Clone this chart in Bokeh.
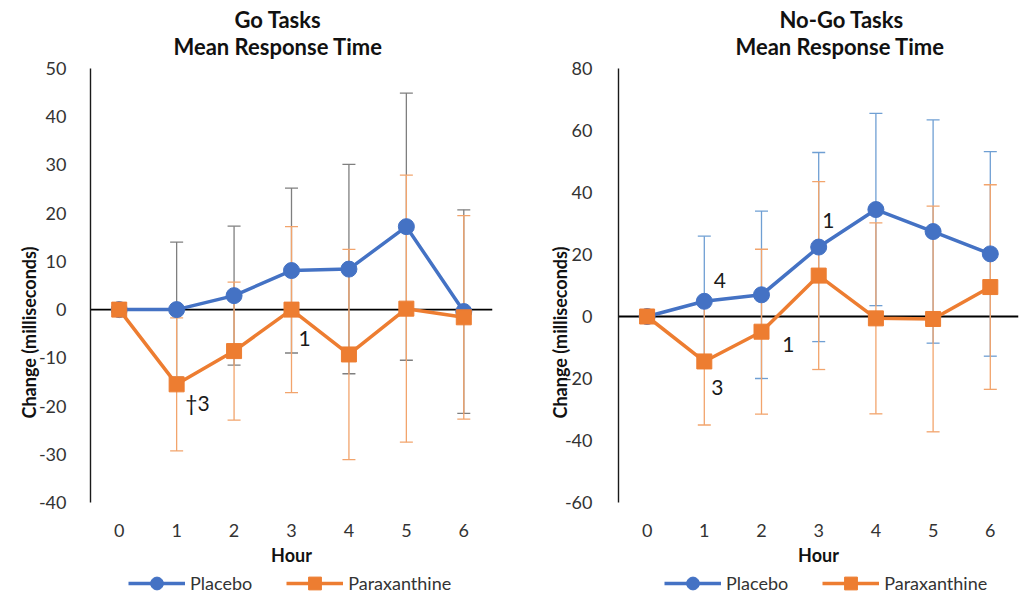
from bokeh.plotting import figure
from bokeh.models import (ColumnDataSource, Whisker, TeeHead, Span, Legend, LegendItem,
                          FixedTicker, Range1d, Title, Label)
from bokeh.layouts import row
from bokeh.embed import file_html
from bokeh.resources import INLINE

# ---------------- data ----------------
hours = [0, 1, 2, 3, 4, 5, 6]

go_placebo = [0, 0.0, 2.9, 8.1, 8.4, 17.2, -0.4]
go_placebo_err = [0, 14.0, 14.4, 17.1, 21.7, 27.7, 21.1]
go_parax = [0, -15.5, -8.6, 0.0, -9.3, 0.2, -1.6]
go_parax_err = [0, 13.8, 14.3, 17.2, 21.8, 27.7, 21.1]

nogo_placebo = [0, 4.9, 7.0, 22.4, 34.5, 27.4, 20.2]
nogo_placebo_err = [0, 21.0, 27.0, 30.5, 31.0, 36.0, 33.0]
nogo_parax = [0, -14.5, -4.9, 13.2, -0.6, -0.8, 9.5]
nogo_parax_err = [0, 20.5, 26.6, 30.3, 30.8, 36.4, 33.0]

go_ticks = [-40, -30, -20, -10, 0, 10, 20, 30, 40, 50]
nogo_ticks = [-60, -40, -20, 0, 20, 40, 60, 80]

# significance annotations: (text, hour position, value position, align)
go_notes = [("\u20203", 1.15, -19.3, "left"), ("1", 3.12, -6.0, "left")]
nogo_notes = [("4", 1.27, 11.6, "center"), ("3", 1.23, -22.9, "center"),
              ("1", 2.47, -9.0, "center"), ("1", 3.17, 31.0, "center")]

FONT = "Lato"
BLUE = "#4472C4"
ORANGE = "#ED7D31"
TXT = "#333333"

FIG_H = 596
TOP = 68          # space for the two title lines
PLOT_H = 434      # height of the value area (top tick to bottom tick)


def whisker_source(vals, errs):
    xs, lo, hi = [], [], []
    for h, v, e in zip(hours, vals, errs):
        if e > 0:
            xs.append(h)
            lo.append(v - e)
            hi.append(v + e)
    return ColumnDataSource(dict(x=xs, lower=lo, upper=hi))


def make_panel(titles, title_offsets, placebo, placebo_err, parax, parax_err, ticks,
               x_hi, width, b_left, b_right, pl_err_color, notes, ylab_standoff,
               tick_standoff, legend_x):
    span = ticks[-1] - ticks[0]
    extra = (FIG_H - TOP - PLOT_H) / PLOT_H * span   # room below the value area
    p = figure(width=width, height=FIG_H, output_backend="svg", toolbar_location=None,
               x_range=Range1d(-0.5, x_hi),
               y_range=Range1d(ticks[0] - extra, ticks[-1]),
               min_border_left=b_left, min_border_right=b_right,
               min_border_top=TOP, min_border_bottom=0, title=None)
    p.outline_line_color = None
    p.grid.visible = False
    p.background_fill_color = "white"
    p.border_fill_color = "white"

    # titles (first added sits closest to the frame)
    t2 = Title(text=titles[1], align="left", offset=title_offsets[1],
               text_font=FONT, text_font_size="22px", text_font_style="bold",
               text_color="#111111", standoff=18)
    t1 = Title(text=titles[0], align="left", offset=title_offsets[0],
               text_font=FONT, text_font_size="22px", text_font_style="bold",
               text_color="#111111", standoff=-22)
    p.add_layout(t2, "above")
    p.add_layout(t1, "above")

    # y axis
    p.yaxis.ticker = FixedTicker(ticks=ticks)
    p.yaxis.bounds = (ticks[0], ticks[-1])
    p.yaxis.major_label_overrides = {t: str(t) for t in ticks}
    p.yaxis.axis_line_color = "#1a1a1a"
    p.yaxis.axis_line_width = 1.4
    p.yaxis.major_tick_line_color = None
    p.yaxis.minor_tick_line_color = None
    p.yaxis.major_label_text_font = FONT
    p.yaxis.major_label_text_font_size = "18px"
    p.yaxis.major_label_text_color = TXT
    p.yaxis.major_label_standoff = tick_standoff
    p.yaxis.axis_label = "Change (milliseconds)"
    p.yaxis.axis_label_text_font = FONT
    p.yaxis.axis_label_text_font_size = "18px"
    p.yaxis.axis_label_text_font_style = "bold"
    p.yaxis.axis_label_text_color = "#111111"
    p.yaxis.axis_label_standoff = ylab_standoff

    # x axis: labels sit below the lowest value tick
    p.xaxis.fixed_location = ticks[0]
    p.xaxis.ticker = FixedTicker(ticks=hours)
    p.xaxis.axis_line_color = None
    p.xaxis.major_tick_line_color = None
    p.xaxis.minor_tick_line_color = None
    p.xaxis.major_label_text_font = FONT
    p.xaxis.major_label_text_font_size = "18px"
    p.xaxis.major_label_text_color = TXT
    p.xaxis.major_label_standoff = 15
    p.xaxis.axis_label = "Hour"
    p.xaxis.axis_label_text_font = FONT
    p.xaxis.axis_label_text_font_size = "18px"
    p.xaxis.axis_label_text_font_style = "bold"
    p.xaxis.axis_label_text_color = "#111111"
    p.xaxis.axis_label_standoff = 4

    # zero line
    p.add_layout(Span(location=0, dimension="width", line_color="black",
                      line_width=1.8, level="underlay"))

    # error bars
    for vals, errs, col in ((placebo, placebo_err, pl_err_color),
                            (parax, parax_err, "#F2A46C")):
        src = whisker_source(vals, errs)
        w = Whisker(source=src, base="x", lower="lower", upper="upper",
                    line_color=col, line_width=1.3, level="underlay",
                    upper_head=TeeHead(size=13, line_color=col, line_width=1.3),
                    lower_head=TeeHead(size=13, line_color=col, line_width=1.3))
        p.add_layout(w)

    src_pl = ColumnDataSource(dict(x=hours, y=placebo))
    src_px = ColumnDataSource(dict(x=hours, y=parax))
    l1 = p.line("x", "y", source=src_pl, line_color=BLUE, line_width=3.5)
    m1 = p.scatter("x", "y", source=src_pl, marker="circle", size=16,
                   fill_color=BLUE, line_color=BLUE)
    l2 = p.line("x", "y", source=src_px, line_color=ORANGE, line_width=3.5)
    m2 = p.scatter("x", "y", source=src_px, marker="square", size=15,
                   fill_color=ORANGE, line_color=ORANGE)

    for txt, xx, yy, al in notes:
        p.add_layout(Label(x=xx, y=yy, text=txt, text_font=FONT, text_font_size="21px",
                           text_color="#1a1a1a", text_align=al, text_baseline="middle"))

    legend = Legend(items=[LegendItem(label="Placebo", renderers=[l1, m1]),
                           LegendItem(label="Paraxanthine", renderers=[l2, m2])],
                    orientation="horizontal", location=(legend_x, -3),
                    border_line_color=None, background_fill_alpha=0,
                    padding=0, margin=0, spacing=34, glyph_width=57, glyph_height=32,
                    label_standoff=5, label_text_font=FONT, label_text_font_size="18px",
                    label_text_color=TXT, label_height=32)
    p.add_layout(legend, "center")
    return p


left = make_panel(("Go Tasks", "Mean Response Time"), (144, 83),
                  go_placebo, go_placebo_err, go_parax, go_parax_err, go_ticks,
                  6.5, 510, 90, 18, "#7F7F7F", go_notes, -4, 18, 38)
right = make_panel(("No-Go Tasks", "Mean Response Time"), (161, 117),
                   nogo_placebo, nogo_placebo_err, nogo_parax, nogo_parax_err, nogo_ticks,
                   -0.5 + 400 / 57.2, 510, 108, 2, "#6F9FD3", nogo_notes, -9, 20, 46)

layout = row(left, right)
open("out.html", "w").write(file_html(layout, INLINE))
